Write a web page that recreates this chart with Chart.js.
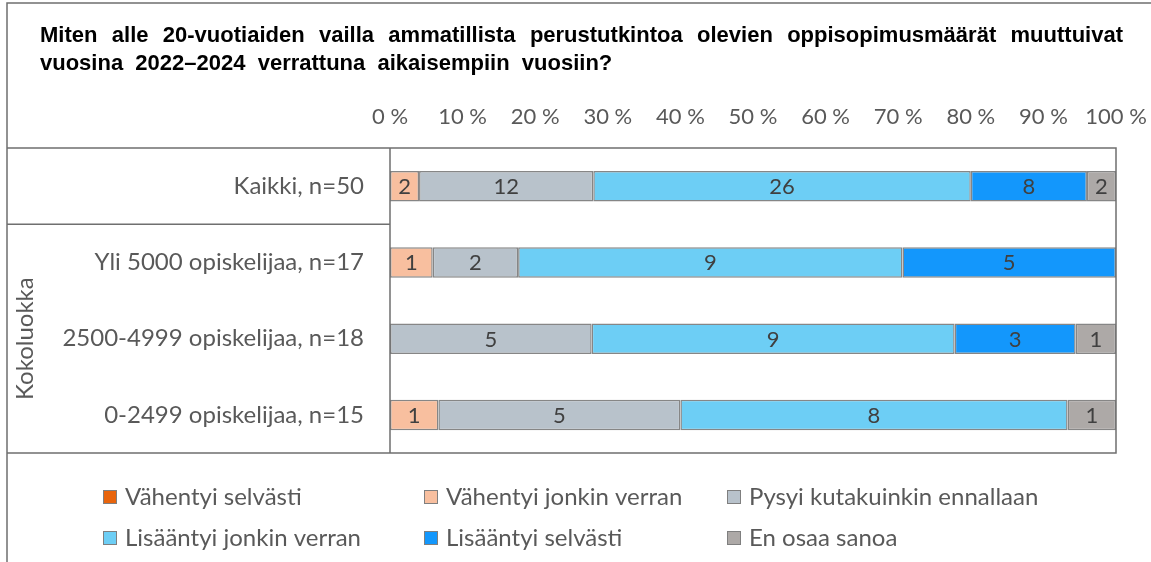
<!DOCTYPE html>
<html>
<head>
<meta charset="utf-8">
<script src="https://cdn.jsdelivr.net/npm/chart.js@4"></script>
<style>
  html, body { margin: 0; padding: 0; background: #fff; }
</style>
</head>
<body>
<canvas id="oppisopimusChart" width="1151" height="562"></canvas>
<script>
const titleLines = [
  "Miten alle 20-vuotiaiden vailla ammatillista perustutkintoa olevien oppisopimusmäärät muuttuivat",
  "vuosina 2022–2024 verrattuna aikaisempiin vuosiin?"
];
const categories = ["Kaikki, n=50", "Yli 5000 opiskelijaa, n=17", "2500-4999 opiskelijaa, n=18", "0-2499 opiskelijaa, n=15"];
const groupLabel = "Kokoluokka";
const seriesNames = [
  "Vähentyi selvästi",
  "Vähentyi jonkin verran",
  "Pysyi kutakuinkin ennallaan",
  "Lisääntyi jonkin verran",
  "Lisääntyi selvästi",
  "En osaa sanoa"
];
const vahentyiSelvasti = [0, 0, 0, 0];
const vahentyiJonkin = [2, 1, 0, 1];
const pysyi = [12, 2, 5, 5];
const lisaantyiJonkin = [26, 9, 9, 8];
const lisaantyiSelvasti = [8, 5, 3, 0];
const enOsaa = [2, 0, 1, 1];
const xTicks = [0, 10, 20, 30, 40, 50, 60, 70, 80, 90, 100];

const seriesCounts = [vahentyiSelvasti, vahentyiJonkin, pysyi, lisaantyiJonkin, lisaantyiSelvasti, enOsaa];
const seriesColors = ["#E8640C", "#F8BF9F", "#B8C2CB", "#6DCEF5", "#1397FC", "#ADA9A7"];

const totals = categories.map((c, i) => seriesCounts.reduce((s, arr) => s + arr[i], 0));

const textGray = "#595959";
const lineGray = "#6f6f6f";

// title, first line justified like the original
const titlePlugin = {
  id: "titleJustify",
  afterDraw(chart) {
    const ctx = chart.ctx;
    ctx.save();
    ctx.font = "bold 22px 'Liberation Sans', Arial";
    ctx.fillStyle = "#000";
    ctx.textBaseline = "middle";
    const left = 40, right = 1123;
    const ys = [36, 64];
    const spaceW = ctx.measureText(" ").width;
    titleLines.forEach((line, li) => {
      const words = line.split(" ");
      const wordsW = words.reduce((s, w) => s + ctx.measureText(w).width, 0);
      let gap = (right - left - wordsW) / (words.length - 1);
      if (li === titleLines.length - 1) gap = spaceW * 2;
      let x = left;
      words.forEach(w => {
        ctx.fillText(w, x, ys[li]);
        x += ctx.measureText(w).width + gap;
      });
    });
    ctx.restore();
  }
};

// frame + category table lines
const framePlugin = {
  id: "frame",
  afterDraw(chart) {
    const ctx = chart.ctx;
    const a = chart.chartArea;
    const yScale = chart.scales.y;
    const groupTop = (yScale.getPixelForValue(0) + yScale.getPixelForValue(1)) / 2;
    ctx.save();
    ctx.strokeStyle = lineGray;
    ctx.lineWidth = 1.5;
    ctx.beginPath();
    ctx.moveTo(7, 562); ctx.lineTo(7, 3); ctx.lineTo(1151, 3);
    ctx.moveTo(7, a.top); ctx.lineTo(a.right, a.top); ctx.lineTo(a.right, a.bottom); ctx.lineTo(7, a.bottom);
    ctx.moveTo(a.left, a.top); ctx.lineTo(a.left, a.bottom);
    ctx.moveTo(7, groupTop); ctx.lineTo(a.left, groupTop);
    ctx.stroke();

    // group label
    ctx.fillStyle = textGray;
    ctx.font = "24px Lato";
    ctx.textAlign = "center";
    ctx.textBaseline = "middle";
    ctx.translate(25, (groupTop + a.bottom) / 2);
    ctx.rotate(-Math.PI / 2);
    ctx.fillText(groupLabel, 0, 0);
    ctx.restore();
  }
};

// counts inside the bars
const countLabels = {
  id: "countLabels",
  afterDatasetsDraw(chart) {
    const ctx = chart.ctx;
    ctx.save();
    ctx.font = "22px Lato";
    ctx.fillStyle = "#404040";
    ctx.textAlign = "center";
    ctx.textBaseline = "middle";
    chart.data.datasets.forEach((ds, di) => {
      const meta = chart.getDatasetMeta(di);
      meta.data.forEach((bar, i) => {
        const n = ds.counts[i];
        if (!n) return;
        const p = bar.getCenterPoint();
        ctx.fillText(String(n), p.x, p.y + 1);
      });
    });
    ctx.restore();
  }
};

// legend in a 3 x 2 grid
const gridLegend = {
  id: "gridLegend",
  afterDraw(chart) {
    const ctx = chart.ctx;
    const colX = [103, 424, 727];
    const rowY = [497, 538];
    ctx.save();
    ctx.font = "24px Lato";
    ctx.textBaseline = "middle";
    chart.data.datasets.forEach((ds, i) => {
      const x = colX[i % 3];
      const y = rowY[Math.floor(i / 3)];
      ctx.fillStyle = ds.backgroundColor;
      ctx.fillRect(x, y - 7, 14, 14);
      ctx.strokeStyle = "#7f7f7f";
      ctx.lineWidth = 1;
      ctx.strokeRect(x + 0.5, y - 6.5, 13, 13);
      ctx.fillStyle = textGray;
      ctx.fillText(ds.label, x + 22, y);
    });
    ctx.restore();
  }
};

const datasets = seriesNames.map((name, s) => ({
  label: name,
  data: seriesCounts[s].map((v, i) => v / totals[i] * 100),
  counts: seriesCounts[s],
  backgroundColor: seriesColors[s],
  borderColor: "#868686",
  borderWidth: 1.5,
  borderSkipped: false,
  barPercentage: 0.4,
  categoryPercentage: 1
}));

const config = {
  type: "bar",
  data: { labels: categories, datasets: datasets },
  options: {
    indexAxis: "y",
    responsive: false,
    animation: false,
    devicePixelRatio: 1,
    layout: { padding: { top: 80, right: 35, bottom: 109, left: 0 } },
    plugins: {
      legend: { display: false },
      tooltip: { enabled: false },
      title: { display: false }
    },
    scales: {
      x: {
        position: "top",
        stacked: true,
        min: 0,
        max: 100,
        afterBuildTicks: scale => { scale.ticks = xTicks.map(v => ({ value: v })); },
        afterFit: scale => {
          scale.height = 68;
          scale.paddingLeft = 0;
          scale.paddingRight = 0;
        },
        ticks: {
          callback: v => v + " %",
          color: textGray,
          font: { family: "Lato", size: 22 },
          padding: 18,
          maxRotation: 0,
          autoSkip: false
        },
        grid: { display: false, drawTicks: false },
        border: { display: false }
      },
      y: {
        stacked: true,
        afterFit: scale => { scale.width = 390; },
        ticks: { color: textGray, font: { family: "Lato", size: 24 }, padding: 26 },
        grid: { display: false, drawTicks: false },
        border: { display: false }
      }
    }
  },
  plugins: [titlePlugin, framePlugin, countLabels, gridLegend]
};

const canvas = document.getElementById("oppisopimusChart");
if (canvas) {
  new Chart(canvas, config);
} else {
  console.error("Canvas element not found");
}
</script>
</body>
</html>
